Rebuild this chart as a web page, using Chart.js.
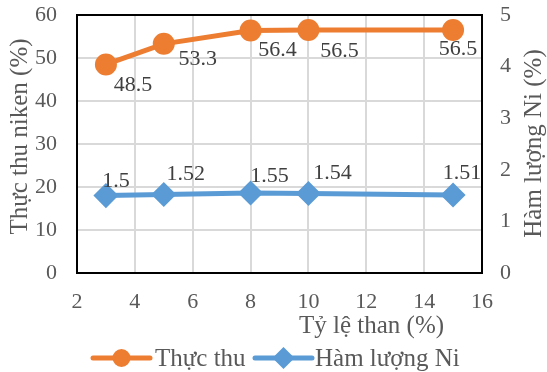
<!DOCTYPE html>
<html>
<head>
<meta charset="utf-8">
<script src="https://cdn.jsdelivr.net/npm/chart.js@4/dist/chart.umd.min.js"></script>
<style>
  html, body { margin: 0; padding: 0; background: #ffffff; }
  #wrap { width: 547px; height: 372px; }
</style>
</head>
<body>
<div id="wrap"><canvas id="chart" width="547" height="372"></canvas></div>
<script>
// Coal ratio (%) tested in the roasting runs
const coalRatio = [3, 5, 8, 10, 15];
// Nickel recovery (%) – left axis
const recovery = [48.5, 53.3, 56.4, 56.5, 56.5];
// Ni content of the concentrate (%) – right axis
const niContent = [1.5, 1.52, 1.55, 1.54, 1.51];

const seriesNames = ['Thực thu', 'Hàm lượng Ni'];
const xTitle = 'Tỷ lệ than (%)';
const yTitle = 'Thực thu niken (%)';
const y1Title = 'Hàm lượng Ni (%)';

const FONT = "'Liberation Serif', 'Times New Roman', serif";
const ORANGE = '#ED7D31';
const BLUE = '#5B9BD5';
const TEXT = '#595959';
const LABEL = '#404040';

// Hand-placed value label offsets (px from each point)
const labelOffsets = [
  [[27, 21], [34, 15], [27, 20], [31, 21], [5, 19]],
  [[10, -14], [22, -20], [19, -17], [24, -20], [9, -22]]
];

// Fixed axis sizes so the plot frame sits where intended
function fixVertical(width) {
  return (s) => { s.width = width; s.paddingTop = 0; s.paddingBottom = 0; };
}
function fixHorizontal(height) {
  return (s) => { s.height = height; s.paddingLeft = 0; s.paddingRight = 0; };
}

const frameAndText = {
  id: 'frameAndText',
  beforeDatasetsDraw(chart) {
    const { ctx, chartArea: a } = chart;
    ctx.save();
    ctx.strokeStyle = '#000000';
    ctx.lineWidth = 2;
    ctx.strokeRect(a.left, a.top, a.right - a.left, a.bottom - a.top);
    ctx.restore();
  },
  afterDatasetsDraw(chart) {
    const { ctx } = chart;
    ctx.save();
    ctx.font = '22px ' + FONT;
    ctx.fillStyle = LABEL;
    ctx.textAlign = 'center';
    ctx.textBaseline = 'middle';
    chart.data.datasets.forEach((ds, di) => {
      const meta = chart.getDatasetMeta(di);
      meta.data.forEach((pt, i) => {
        const [dx, dy] = labelOffsets[di][i];
        ctx.fillText(String(ds.data[i].y), pt.x + dx, pt.y + dy);
      });
    });
    ctx.restore();
  },
  afterDraw(chart) {
    const { ctx } = chart;
    ctx.save();
    ctx.fillStyle = TEXT;
    ctx.font = '25px ' + FONT;
    ctx.textAlign = 'center';
    ctx.textBaseline = 'middle';
    // axis titles
    ctx.fillText(xTitle, 371.5, 326.5);
    ctx.save();
    ctx.translate(20.5, 136.5);
    ctx.rotate(-Math.PI / 2);
    ctx.fillText(yTitle, 0, 0);
    ctx.restore();
    ctx.save();
    ctx.translate(534, 143.5);
    ctx.rotate(-Math.PI / 2);
    ctx.fillText(y1Title, 0, 0);
    ctx.restore();

    // legend: line + marker + name
    const items = [
      { x0: 93, x1: 150, tx: 155 },
      { x0: 255, x1: 312, tx: 315 }
    ];
    const ly = 358;
    chart.data.datasets.forEach((ds, di) => {
      const it = items[di];
      ctx.strokeStyle = ds.borderColor;
      ctx.lineWidth = 5;
      ctx.lineCap = 'round';
      ctx.beginPath();
      ctx.moveTo(it.x0, ly);
      ctx.lineTo(it.x1, ly);
      ctx.stroke();
      ctx.fillStyle = ds.borderColor;
      Chart.helpers.drawPoint(ctx, {
        pointStyle: ds.pointStyle,
        radius: ds.pointStyle === 'circle' ? 6.5 : 7.5,
        rotation: 0,
        borderWidth: 1
      }, (it.x0 + it.x1) / 2, ly);
      ctx.fill();
      ctx.fillStyle = TEXT;
      ctx.textAlign = 'left';
      ctx.textBaseline = 'alphabetic';
      ctx.fillText(ds.label, it.tx, 366);
    });
    ctx.restore();
  }
};

const toPoints = (ys) => coalRatio.map((x, i) => ({ x: x, y: ys[i] }));

new Chart(document.getElementById('chart'), {
  type: 'line',
  data: {
    datasets: [
      {
        label: seriesNames[0],
        data: toPoints(recovery),
        yAxisID: 'y',
        borderColor: ORANGE,
        backgroundColor: ORANGE,
        pointBackgroundColor: ORANGE,
        pointBorderColor: ORANGE,
        borderWidth: 5,
        pointStyle: 'circle',
        pointRadius: 8.5,
        tension: 0
      },
      {
        label: seriesNames[1],
        data: toPoints(niContent),
        yAxisID: 'y1',
        borderColor: BLUE,
        backgroundColor: BLUE,
        pointBackgroundColor: BLUE,
        pointBorderColor: BLUE,
        borderWidth: 5,
        pointStyle: 'rectRot',
        pointRadius: 9,
        tension: 0
      }
    ]
  },
  options: {
    responsive: false,
    animation: false,
    devicePixelRatio: 1,
    layout: { padding: { top: 15, left: 0, right: 0, bottom: 0 } },
    plugins: {
      legend: { display: false },
      tooltip: { enabled: false }
    },
    scales: {
      x: {
        type: 'linear',
        min: 2,
        max: 16,
        ticks: { stepSize: 2, padding: 16, color: TEXT, font: { family: FONT, size: 22 } },
        grid: { color: '#d9d9d9', lineWidth: 2, drawTicks: false },
        border: { display: false },
        afterFit: fixHorizontal(99)
      },
      y: {
        position: 'left',
        min: 0,
        max: 60,
        ticks: { stepSize: 10, padding: 20, color: TEXT, font: { family: FONT, size: 22 } },
        grid: { color: '#d9d9d9', lineWidth: 2, drawTicks: false },
        border: { display: false },
        afterFit: fixVertical(77)
      },
      y1: {
        position: 'right',
        min: 0,
        max: 5,
        ticks: { stepSize: 1, padding: 18, color: TEXT, font: { family: FONT, size: 22 } },
        grid: { display: false, drawTicks: false },
        border: { display: false },
        afterFit: fixVertical(65)
      }
    }
  },
  plugins: [frameAndText]
});
</script>
</body>
</html>
